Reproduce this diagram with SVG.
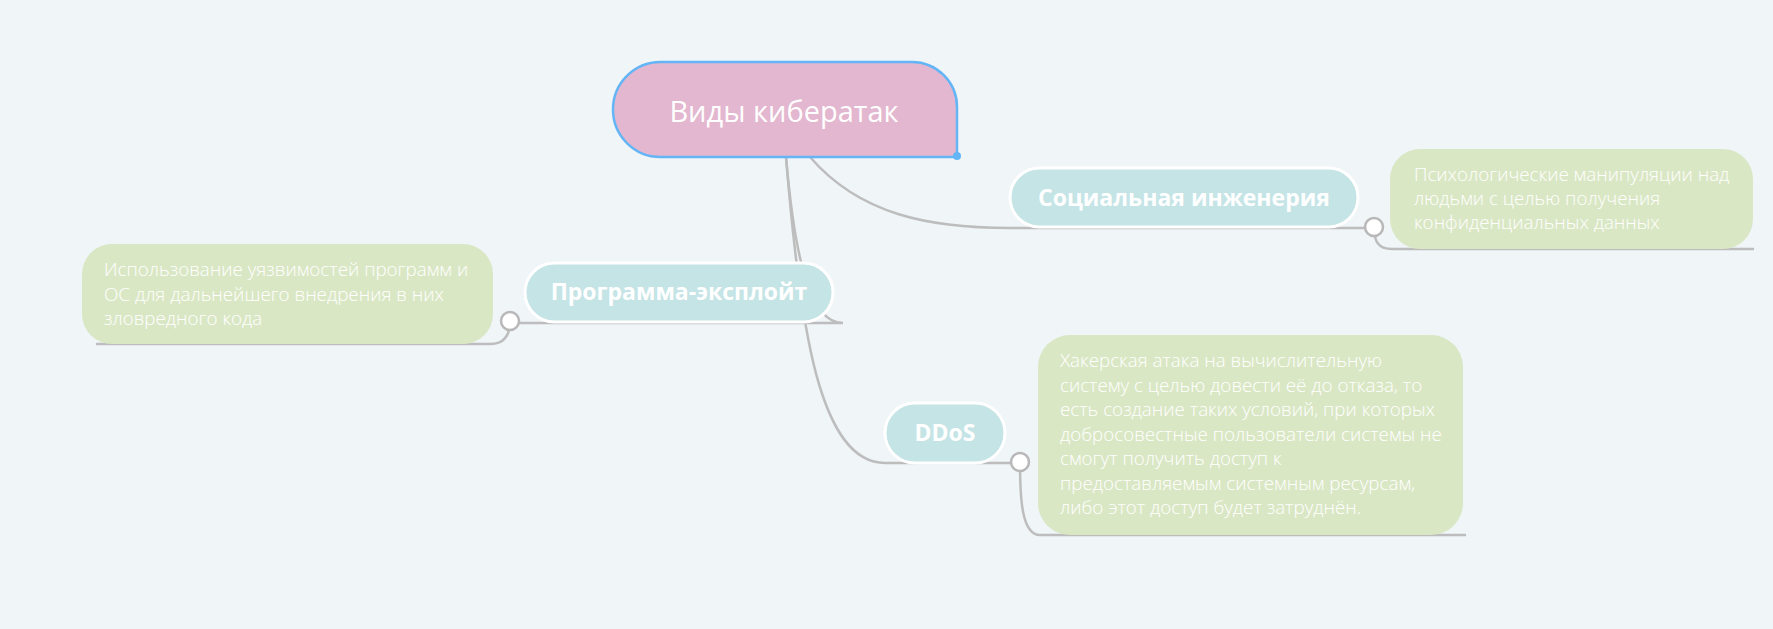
<svg xmlns="http://www.w3.org/2000/svg" width="1773" height="629" viewBox="0 0 1773 629">
<style>
.conn{fill:none;stroke:#bdbdbd;stroke-width:2.5;stroke-linecap:round}
.knob{fill:#ffffff;stroke:#b8b8b8;stroke-width:2.5}
.topic{fill:#c5e4e6;stroke:#ffffff;stroke-width:3}
.note{fill:#dae7c5}
.tt{font-family:"Open Sans","Noto Sans","DejaVu Sans",sans-serif;font-weight:700;font-size:23px;fill:#ffffff;text-anchor:middle}
.nt{font-family:"Open Sans","Noto Sans","DejaVu Sans",sans-serif;font-weight:300;font-size:18.8px;fill:#ffffff}
.rt{font-family:"Open Sans","Noto Sans","DejaVu Sans",sans-serif;font-weight:400;font-size:29px;fill:#ffffff;text-anchor:middle}
</style>
<rect x="0" y="0" width="1773" height="629" fill="#f0f5f8"/>
<g id="connectors">
<path class="conn" d="M810,157 C860,215 930,228 1010,228 L1374,228"/>
<path class="conn" d="M786,157 C795,260 810,323 843,323 L510,323"/>
<path class="conn" d="M786,157 C800,330 820,463 885,463 L1020,463"/>
<path class="conn" d="M1374,227 C1374,241 1378,249 1392,249 L1753,249"/>
<path class="conn" d="M510,321 C510,335 505,344 490,344 L97,344"/>
<path class="conn" d="M1020,462 C1020,500 1022,535 1040,535 L1465,535"/>
</g>
<g id="root">
<path d="M660.5,62 L912,62 A45,45 0 0 1 957,107 L957,157 L660.5,157 A47.5,47.5 0 0 1 660.5,62 Z" fill="#e3b7cf" stroke="#64b5f6" stroke-width="2.5"/>
<circle cx="957" cy="156" r="4" fill="#64b5f6"/>
<text class="rt" x="784" y="122">Виды кибератак</text>
</g>
<g id="social">
<rect class="topic" x="1010" y="168" width="348" height="59" rx="29.5"/>
<text class="tt" x="1184" y="206">Социальная инженерия</text>
</g>
<g id="social-note">
<circle class="knob" cx="1374" cy="227" r="9"/>
<rect class="note" x="1390" y="149" width="363" height="100" rx="30"/>
<text class="nt" x="1414" y="181">Психологические манипуляции над</text>
<text class="nt" x="1414" y="205">людьми с целью получения</text>
<text class="nt" x="1414" y="229">конфиденциальных данных</text>
</g>
<g id="exploit">
<rect class="topic" x="525" y="263" width="308" height="59" rx="29.5"/>
<text class="tt" x="679" y="300">Программа-эксплойт</text>
</g>
<g id="exploit-note">
<circle class="knob" cx="510" cy="321" r="9"/>
<rect class="note" x="82" y="244" width="411" height="100" rx="30"/>
<text class="nt" x="104" y="276">Использование уязвимостей программ и</text>
<text class="nt" x="104" y="300.5">ОС для дальнейшего внедрения в них</text>
<text class="nt" x="104" y="325">зловредного кода</text>
</g>
<g id="ddos">
<rect class="topic" x="885" y="403" width="120" height="60" rx="30"/>
<text class="tt" x="945" y="441">DDoS</text>
</g>
<g id="ddos-note">
<circle class="knob" cx="1020" cy="462" r="9"/>
<rect class="note" x="1038" y="335" width="425" height="200" rx="32"/>
<text class="nt" x="1060" y="367">Хакерская атака на вычислительную</text>
<text class="nt" x="1060" y="391.5">систему с целью довести её до отказа, то</text>
<text class="nt" x="1060" y="416">есть создание таких условий, при которых</text>
<text class="nt" x="1060" y="440.5">добросовестные пользователи системы не</text>
<text class="nt" x="1060" y="465">смогут получить доступ к</text>
<text class="nt" x="1060" y="489.5">предоставляемым системным ресурсам,</text>
<text class="nt" x="1060" y="514">либо этот доступ будет затруднён.</text>
</g>
</svg>
